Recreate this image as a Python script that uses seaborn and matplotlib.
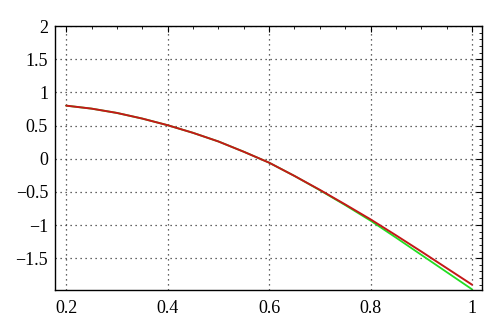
import numpy as np
import pandas as pd
import matplotlib
matplotlib.use("Agg")
import matplotlib.pyplot as plt
import seaborn as sns
from matplotlib.ticker import MultipleLocator, FuncFormatter

x_vals = [0.2, 0.25, 0.3, 0.35, 0.4, 0.45, 0.5, 0.55, 0.6, 0.65, 0.7, 0.75, 0.8, 0.85, 0.9, 0.95, 1.0]
green_vals = [0.80, 0.755, 0.69, 0.605, 0.505, 0.39, 0.26, 0.105, -0.06, -0.26, -0.475, -0.70, -0.935, -1.19, -1.45, -1.71, -1.97]
red_vals = [0.80, 0.755, 0.69, 0.605, 0.505, 0.39, 0.26, 0.105, -0.06, -0.26, -0.47, -0.69, -0.915, -1.155, -1.40, -1.65, -1.90]

sns.set_style("white")
plt.rcParams['font.family'] = ['Liberation Serif', 'DejaVu Serif']

fig = plt.figure(figsize=(5, 3.32), dpi=100)
ax = fig.add_axes([0.11, 0.1265, 0.854, 0.795])

sns.lineplot(x=x_vals, y=green_vals, ax=ax, color='#22dd22', linewidth=1.3)
sns.lineplot(x=x_vals, y=red_vals, ax=ax, color='#c41818', linewidth=1.4)

ax.set_xlim(0.178, 1.0196)
ax.set_ylim(-1.98, 2.0)
ax.xaxis.set_major_locator(MultipleLocator(0.2))
ax.xaxis.set_minor_locator(MultipleLocator(0.05))
ax.yaxis.set_major_locator(MultipleLocator(0.5))
ax.yaxis.set_minor_locator(MultipleLocator(0.1))
fmt = FuncFormatter(lambda v, p: ('%g' % round(v, 2)).replace('-', '\u2212'))
ax.xaxis.set_major_formatter(fmt)
ax.yaxis.set_major_formatter(fmt)

ax.grid(True, which='major', linestyle=(0, (1, 3)), color='#333333', linewidth=0.9)
ax.tick_params(which='both', direction='in', top=True, right=True, labelsize=13, colors='black')
ax.tick_params(which='major', length=4, width=0.8)
ax.tick_params(which='minor', length=2, width=0.6)
ax.tick_params(axis='x', pad=7)
ax.tick_params(axis='y', pad=5)
for s in ax.spines.values():
    s.set_color('black')
    s.set_linewidth(1.0)

fig.savefig('out.png', dpi=100)
